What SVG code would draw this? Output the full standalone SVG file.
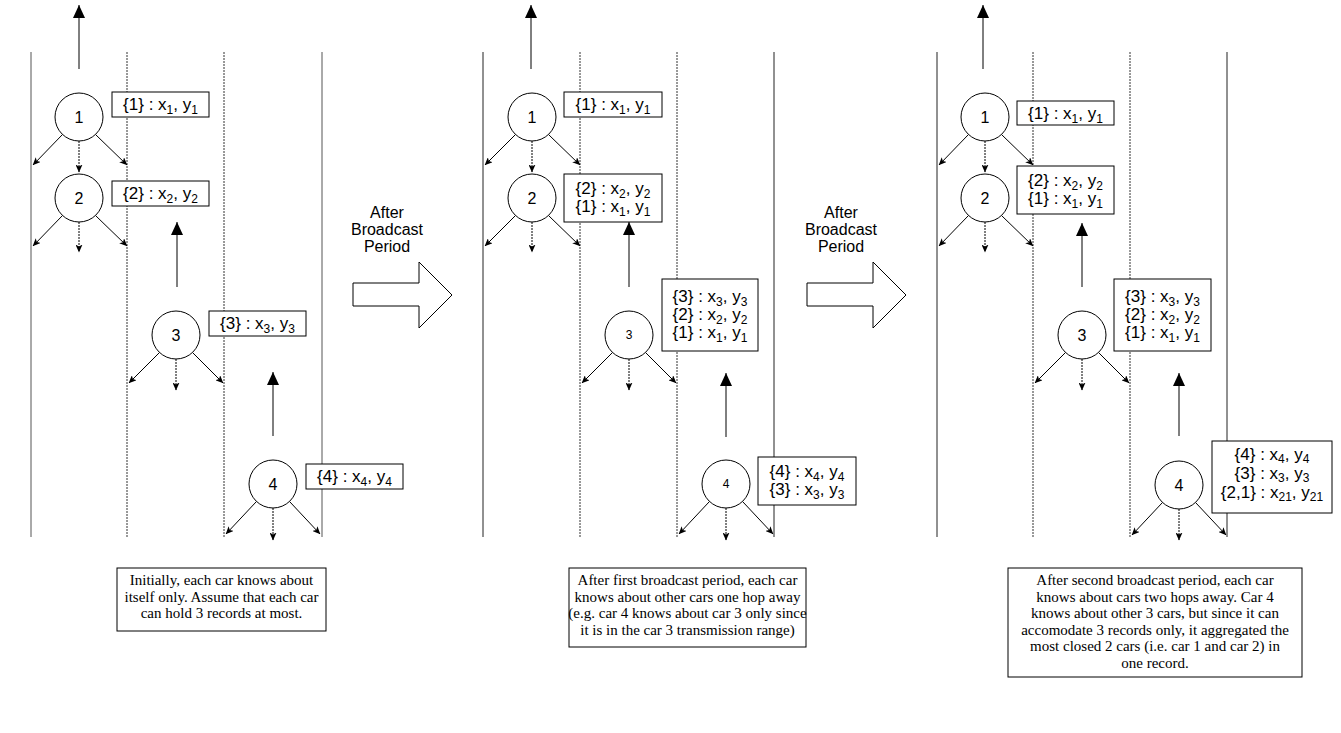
<svg xmlns="http://www.w3.org/2000/svg" width="1341" height="733" viewBox="0 0 1341 733">
<style>
.lane{stroke:#222;stroke-width:1;fill:none}
.lane1{stroke:#555;stroke-width:1;fill:none}
.dot{stroke:#333;stroke-width:1;stroke-dasharray:2 1;fill:none}
.node circle{fill:#fff;stroke:#000;stroke-width:1}
.nl{font-family:"Liberation Sans",Arial,sans-serif;font-size:16px;text-anchor:middle;fill:#000}
.nls{font-family:"Liberation Sans",Arial,sans-serif;font-size:12px;text-anchor:middle;fill:#000}
.rec rect{fill:#fff;stroke:#000;stroke-width:1}
.rt{font-family:"Liberation Sans",Arial,sans-serif;font-size:17px;text-anchor:middle;fill:#000}
.sb{font-size:12px}
.road{stroke:#000;stroke-width:1;marker-end:url(#big)}
.tx{stroke:#000;stroke-width:1;marker-end:url(#sm)}
.txd{stroke:#000;stroke-width:1;stroke-dasharray:2 1;marker-end:url(#sm)}
.hollow{fill:#fff;stroke:#000;stroke-width:1}
.at{font-family:"Liberation Sans",Arial,sans-serif;font-size:16px;text-anchor:middle;fill:#000}
.note rect{fill:#fff;stroke:#000;stroke-width:1}
.nt{font-family:"Liberation Serif","Times New Roman",serif;font-size:15px;text-anchor:middle;fill:#000}
</style>
<defs>
<marker id="big" markerUnits="userSpaceOnUse" markerWidth="13" markerHeight="12" refX="13" refY="6" orient="auto"><path d="M0,0 L13,6 L0,12 z" fill="#000"/></marker>
<marker id="sm" markerUnits="userSpaceOnUse" markerWidth="8" markerHeight="7" refX="7.5" refY="3.5" orient="auto"><path d="M0,0 L8,3.5 L0,7 L2,3.5 z" fill="#000"/></marker>
</defs>
<g id="lanes">
<line class="lane1" x1="31" y1="52" x2="31" y2="537"/>
<line class="dot" x1="127" y1="52" x2="127" y2="537"/>
<line class="dot" x1="224" y1="52" x2="224" y2="537"/>
<line class="lane1" x1="322" y1="52" x2="322" y2="537"/>
<line class="lane" x1="483" y1="52" x2="483" y2="537"/>
<line class="dot" x1="580" y1="52" x2="580" y2="537"/>
<line class="dot" x1="677" y1="52" x2="677" y2="537"/>
<line class="lane" x1="774" y1="52" x2="774" y2="537"/>
<line class="lane" x1="937" y1="52" x2="937" y2="537"/>
<line class="dot" x1="1033" y1="52" x2="1033" y2="537"/>
<line class="dot" x1="1130" y1="52" x2="1130" y2="537"/>
<line class="lane" x1="1227" y1="52" x2="1227" y2="537"/>
</g>
<g id="connectors">
<line class="road" x1="79" y1="69" x2="79" y2="5"/>
<line class="road" x1="177" y1="287" x2="177" y2="222"/>
<line class="road" x1="273" y1="436" x2="273" y2="372"/>
<line class="road" x1="531" y1="69" x2="531" y2="5"/>
<line class="road" x1="629" y1="287" x2="629" y2="222"/>
<line class="road" x1="726" y1="437" x2="726" y2="373"/>
<line class="road" x1="983" y1="69" x2="983" y2="5"/>
<line class="road" x1="1082" y1="287" x2="1082" y2="223"/>
<line class="road" x1="1179" y1="436" x2="1179" y2="373"/>
<line class="tx" x1="62" y1="135" x2="33" y2="165"/><line class="txd" x1="79" y1="141" x2="79" y2="172"/><line class="tx" x1="96" y1="135" x2="127" y2="165"/>
<line class="tx" x1="62" y1="216" x2="33" y2="246"/><line class="txd" x1="79" y1="222" x2="79" y2="252"/><line class="tx" x1="96" y1="216" x2="127" y2="246"/>
<line class="tx" x1="159" y1="353" x2="129" y2="383"/><line class="txd" x1="176" y1="359" x2="176" y2="390"/><line class="tx" x1="193" y1="353" x2="223" y2="383"/>
<line class="tx" x1="256" y1="502" x2="226" y2="534"/><line class="txd" x1="273" y1="508" x2="273" y2="540"/><line class="tx" x1="290" y1="502" x2="320" y2="534"/>
<line class="tx" x1="515" y1="135" x2="485" y2="165"/><line class="txd" x1="532" y1="141" x2="532" y2="172"/><line class="tx" x1="549" y1="135" x2="580" y2="165"/>
<line class="tx" x1="515" y1="216" x2="485" y2="246"/><line class="txd" x1="532" y1="222" x2="532" y2="252"/><line class="tx" x1="549" y1="216" x2="580" y2="246"/>
<line class="tx" x1="612" y1="353" x2="582" y2="383"/><line class="txd" x1="629" y1="359" x2="629" y2="390"/><line class="tx" x1="646" y1="353" x2="676" y2="383"/>
<line class="tx" x1="709" y1="502" x2="679" y2="534"/><line class="txd" x1="726" y1="508" x2="726" y2="540"/><line class="tx" x1="743" y1="502" x2="773" y2="534"/>
<line class="tx" x1="968" y1="135" x2="939" y2="165"/><line class="txd" x1="985" y1="141" x2="985" y2="172"/><line class="tx" x1="1002" y1="135" x2="1033" y2="165"/>
<line class="tx" x1="968" y1="216" x2="939" y2="246"/><line class="txd" x1="985" y1="222" x2="985" y2="252"/><line class="tx" x1="1002" y1="216" x2="1033" y2="246"/>
<line class="tx" x1="1065" y1="353" x2="1035" y2="383"/><line class="txd" x1="1082" y1="359" x2="1082" y2="390"/><line class="tx" x1="1099" y1="353" x2="1129" y2="383"/>
<line class="tx" x1="1162" y1="503" x2="1132" y2="535"/><line class="txd" x1="1179" y1="509" x2="1179" y2="540"/><line class="tx" x1="1196" y1="503" x2="1226" y2="535"/>
</g>
<g id="p1-car1" class="node"><circle cx="79" cy="117" r="24"/><text class="nl" x="79" y="123">1</text></g>
<g id="p1-car2" class="node"><circle cx="79" cy="198" r="24"/><text class="nl" x="79" y="204">2</text></g>
<g id="p1-car3" class="node"><circle cx="176" cy="335" r="24"/><text class="nl" x="176" y="341">3</text></g>
<g id="p1-car4" class="node"><circle cx="273" cy="484" r="24"/><text class="nl" x="273" y="490">4</text></g>
<g id="p1-rec1" class="rec"><rect x="112" y="92" width="97" height="25"/><text class="rt" x="160.5" y="110">{1} : x<tspan class="sb" dy="4">1</tspan><tspan dy="-4">, y</tspan><tspan class="sb" dy="4">1</tspan></text></g>
<g id="p1-rec2" class="rec"><rect x="112" y="181" width="97" height="25"/><text class="rt" x="160.5" y="199">{2} : x<tspan class="sb" dy="4">2</tspan><tspan dy="-4">, y</tspan><tspan class="sb" dy="4">2</tspan></text></g>
<g id="p1-rec3" class="rec"><rect x="209" y="311" width="97" height="25"/><text class="rt" x="257.5" y="329">{3} : x<tspan class="sb" dy="4">3</tspan><tspan dy="-4">, y</tspan><tspan class="sb" dy="4">3</tspan></text></g>
<g id="p1-rec4" class="rec"><rect x="306" y="464" width="97" height="25"/><text class="rt" x="354.5" y="482">{4} : x<tspan class="sb" dy="4">4</tspan><tspan dy="-4">, y</tspan><tspan class="sb" dy="4">4</tspan></text></g>
<g id="transition1">
<polygon class="hollow" points="353,283 419,283 419,262 452,295 419,328 419,306 353,306"/>
<text class="at" x="387" y="218">After</text><text class="at" x="387" y="235">Broadcast</text><text class="at" x="387" y="252">Period</text>
</g>
<g id="p2-car1" class="node"><circle cx="532" cy="117" r="24"/><text class="nl" x="532" y="123">1</text></g>
<g id="p2-car2" class="node"><circle cx="532" cy="198" r="24"/><text class="nl" x="532" y="204">2</text></g>
<g id="p2-car3" class="node"><circle cx="629" cy="335" r="24"/><text class="nls" x="629" y="339">3</text></g>
<g id="p2-car4" class="node"><circle cx="726" cy="484" r="24"/><text class="nls" x="726" y="488">4</text></g>
<g id="p2-rec1" class="rec"><rect x="564" y="92" width="98" height="25"/><text class="rt" x="613" y="110">{1} : x<tspan class="sb" dy="4">1</tspan><tspan dy="-4">, y</tspan><tspan class="sb" dy="4">1</tspan></text></g>
<g id="p2-rec2" class="rec"><rect x="564" y="174" width="98" height="48"/>
<text class="rt" x="613" y="194">{2} : x<tspan class="sb" dy="4">2</tspan><tspan dy="-4">, y</tspan><tspan class="sb" dy="4">2</tspan></text>
<text class="rt" x="613" y="212">{1} : x<tspan class="sb" dy="4">1</tspan><tspan dy="-4">, y</tspan><tspan class="sb" dy="4">1</tspan></text></g>
<g id="p2-rec3" class="rec"><rect x="662" y="279" width="96" height="72"/>
<text class="rt" x="710" y="302">{3} : x<tspan class="sb" dy="4">3</tspan><tspan dy="-4">, y</tspan><tspan class="sb" dy="4">3</tspan></text>
<text class="rt" x="710" y="320">{2} : x<tspan class="sb" dy="4">2</tspan><tspan dy="-4">, y</tspan><tspan class="sb" dy="4">2</tspan></text>
<text class="rt" x="710" y="338">{1} : x<tspan class="sb" dy="4">1</tspan><tspan dy="-4">, y</tspan><tspan class="sb" dy="4">1</tspan></text></g>
<g id="p2-rec4" class="rec"><rect x="758" y="457" width="98" height="48"/>
<text class="rt" x="807" y="477">{4} : x<tspan class="sb" dy="4">4</tspan><tspan dy="-4">, y</tspan><tspan class="sb" dy="4">4</tspan></text>
<text class="rt" x="807" y="495">{3} : x<tspan class="sb" dy="4">3</tspan><tspan dy="-4">, y</tspan><tspan class="sb" dy="4">3</tspan></text></g>
<g id="transition2">
<polygon class="hollow" points="807,283 873,283 873,262 906,295 873,328 873,306 807,306"/>
<text class="at" x="841" y="218">After</text><text class="at" x="841" y="235">Broadcast</text><text class="at" x="841" y="252">Period</text>
</g>
<g id="p3-car1" class="node"><circle cx="985" cy="117" r="24"/><text class="nl" x="985" y="123">1</text></g>
<g id="p3-car2" class="node"><circle cx="985" cy="198" r="24"/><text class="nl" x="985" y="204">2</text></g>
<g id="p3-car3" class="node"><circle cx="1082" cy="335" r="24"/><text class="nl" x="1082" y="341">3</text></g>
<g id="p3-car4" class="node"><circle cx="1179" cy="485" r="24"/><text class="nl" x="1179" y="491">4</text></g>
<g id="p3-rec1" class="rec"><rect x="1017" y="101" width="97" height="24"/><text class="rt" x="1065.5" y="119">{1} : x<tspan class="sb" dy="4">1</tspan><tspan dy="-4">, y</tspan><tspan class="sb" dy="4">1</tspan></text></g>
<g id="p3-rec2" class="rec"><rect x="1017" y="166" width="97" height="48"/>
<text class="rt" x="1065.5" y="186">{2} : x<tspan class="sb" dy="4">2</tspan><tspan dy="-4">, y</tspan><tspan class="sb" dy="4">2</tspan></text>
<text class="rt" x="1065.5" y="204">{1} : x<tspan class="sb" dy="4">1</tspan><tspan dy="-4">, y</tspan><tspan class="sb" dy="4">1</tspan></text></g>
<g id="p3-rec3" class="rec"><rect x="1114" y="279" width="97" height="72"/>
<text class="rt" x="1162.5" y="302">{3} : x<tspan class="sb" dy="4">3</tspan><tspan dy="-4">, y</tspan><tspan class="sb" dy="4">3</tspan></text>
<text class="rt" x="1162.5" y="320">{2} : x<tspan class="sb" dy="4">2</tspan><tspan dy="-4">, y</tspan><tspan class="sb" dy="4">2</tspan></text>
<text class="rt" x="1162.5" y="338">{1} : x<tspan class="sb" dy="4">1</tspan><tspan dy="-4">, y</tspan><tspan class="sb" dy="4">1</tspan></text></g>
<g id="p3-rec4" class="rec"><rect x="1212" y="441" width="120" height="72"/>
<text class="rt" x="1272" y="460">{4} : x<tspan class="sb" dy="3">4</tspan><tspan dy="-3">, y</tspan><tspan class="sb" dy="3">4</tspan></text>
<text class="rt" x="1272" y="479">{3} : x<tspan class="sb" dy="3">3</tspan><tspan dy="-3">, y</tspan><tspan class="sb" dy="3">3</tspan></text>
<text class="rt" x="1272" y="498">{2,1} : x<tspan class="sb" dy="3">21</tspan><tspan dy="-3">, y</tspan><tspan class="sb" dy="3">21</tspan></text></g>
<g id="note1" class="note"><rect x="117" y="568" width="209" height="63"/>
<text class="nt" x="221.5" y="585">Initially, each car knows about</text>
<text class="nt" x="221.5" y="601.5">itself only. Assume that each car</text>
<text class="nt" x="221.5" y="618">can hold 3 records at most.</text></g>
<g id="note2" class="note"><rect x="569" y="568" width="237" height="79"/>
<text class="nt" x="687.5" y="585">After first broadcast period, each car</text>
<text class="nt" x="687.5" y="601.5">knows about other cars one hop away</text>
<text class="nt" x="687.5" y="618">(e.g. car 4 knows about car 3 only since</text>
<text class="nt" x="687.5" y="634.5">it is in the car 3 transmission range)</text></g>
<g id="note3" class="note"><rect x="1008" y="568" width="294" height="109"/>
<text class="nt" x="1155" y="585">After second broadcast period, each car</text>
<text class="nt" x="1155" y="601.5">knows about cars two hops away. Car 4</text>
<text class="nt" x="1155" y="618">knows about other 3 cars, but since it can</text>
<text class="nt" x="1155" y="634.5">accomodate 3 records only, it aggregated the</text>
<text class="nt" x="1155" y="651">most closed 2 cars (i.e. car 1 and car 2) in</text>
<text class="nt" x="1155" y="667.5">one record.</text></g>
</svg>
